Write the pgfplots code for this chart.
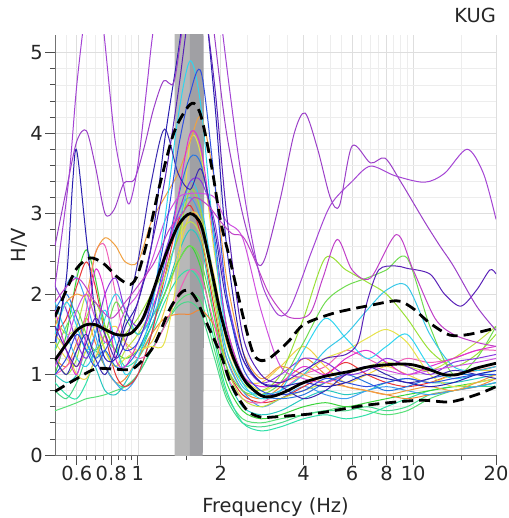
\documentclass[border=0pt]{standalone}
\usepackage{fontspec}
\setmainfont{DejaVu Sans}
\usepackage{pgfplots}
\usepackage{pgfplotstable}
\pgfplotsset{compat=1.18}

\pgfplotstableread{
id n1 n2 n3 n4 n5 n6 n7 n8 n9 n10 n11 n12 n13 n14 n15 n16 n17 n18 n19 n20 n21 n22 n23 n24 n25 n26 n27 n28 n29
f 0.5 0.55 0.6 0.65 0.7 0.76 0.83 0.9 1.0 1.12 1.25 1.4 1.55 1.7 1.9 2.1 2.4 2.8 3.3 4.0 4.8 5.7 6.8 8.0 9.5 11.5 14 17 20
c2 1.0 1.2 1.5 1.3 1.1 1.3 1.5 1.3 1.4 1.9 2.7 3.8 4.5 4.75 3.4 2.0 1.1 0.8 0.75 0.8 0.95 0.9 0.85 0.9 0.95 0.9 0.95 1.0 1.0
c3 1.5 1.9 1.6 1.3 1.5 1.8 1.4 1.0 1.2 1.8 2.9 4.2 4.9 4.3 2.6 1.5 0.9 0.7 0.8 1.3 1.7 1.45 1.2 1.35 1.5 1.1 0.95 1.0 1.05
c4 1.2 1.0 1.3 1.5 1.2 1.0 1.3 1.7 2.4 3.4 4.05 3.5 3.3 3.55 2.8 1.9 1.2 0.9 0.85 0.7 0.8 1.0 1.1 1.0 0.9 0.95 1.05 1.0 0.95
c5 1.4 1.2 1.1 1.3 1.6 1.3 1.1 1.2 1.3 1.35 1.4 2.3 3.9 3.7 2.5 1.6 1.0 0.8 0.9 1.0 1.2 1.3 1.45 1.56 1.4 1.0 0.85 0.9 0.95
c6 1.6 1.9 2.0 2.0 2.5 2.7 2.6 2.4 2.4 2.9 3.2 3.5 3.9 4.2 3.4 2.2 1.3 0.95 1.1 1.0 0.9 0.85 0.8 0.75 0.8 0.85 0.8 0.9 1.0
c7 1.8 1.3 1.0 1.5 2.3 2.0 1.2 1.1 1.4 1.8 2.3 3.2 4.0 3.8 2.6 1.6 1.0 0.85 0.9 1.1 1.0 1.2 1.3 1.15 1.0 1.1 1.2 1.3 1.35
c8 1.1 1.4 1.8 2.0 1.7 1.4 1.5 1.8 2.0 2.4 2.9 3.2 3.25 3.25 3.2 2.9 2.7 1.8 1.1 0.95 0.9 1.0 1.1 1.05 1.0 1.05 1.1 1.15 1.2
c9 1.5 1.7 2.1 2.4 2.1 1.5 1.0 0.85 1.0 1.5 2.2 2.9 3.1 2.7 1.8 1.1 0.75 0.65 0.7 0.85 1.0 1.15 1.0 0.9 0.85 0.9 1.0 1.05 1.1
c10 1.0 1.5 2.2 2.55 2.2 1.6 1.3 1.2 1.3 1.6 2.0 2.4 2.6 2.3 1.5 0.9 0.55 0.45 0.5 0.6 0.65 0.6 0.65 0.7 0.75 0.8 0.85 0.9 0.95
c11 0.9 0.75 0.7 0.9 1.2 1.4 1.3 1.1 1.2 1.5 1.9 2.2 2.3 2.1 1.4 0.8 0.4 0.3 0.35 0.45 0.5 0.45 0.5 0.6 0.7 0.8 0.85 0.85 0.9
c12 0.55 0.6 0.65 0.7 0.72 0.75 0.8 0.85 1.0 1.3 1.6 1.9 2.0 1.9 1.3 0.75 0.45 0.4 0.45 0.5 0.55 0.6 0.55 0.5 0.55 0.7 0.8 0.85 0.9
c13 1.2 1.0 1.2 1.7 1.9 1.6 1.3 1.5 1.7 2.0 2.3 2.7 3.3 3.0 2.0 1.3 0.9 0.8 1.0 1.7 2.45 2.3 2.15 2.0 1.7 1.3 1.1 1.25 1.5
c14 1.3 1.6 1.8 1.5 1.3 1.5 1.9 1.7 1.5 1.7 2.0 2.4 2.6 2.4 1.7 1.1 0.8 0.75 0.9 1.4 1.9 2.1 2.2 2.3 2.45 1.6 1.0 1.2 1.6
c15 1.9 1.5 1.2 1.1 1.3 1.7 2.0 1.8 1.5 1.7 2.1 2.8 3.4 3.1 2.1 1.3 0.85 0.75 0.8 1.0 1.3 1.5 1.8 2.05 2.1 1.5 1.1 1.05 1.1
c16 1.3 2.1 2.2 1.9 1.5 1.1 0.9 0.8 1.0 1.5 2.3 3.0 3.2 2.9 2.0 1.2 0.8 0.6 0.7 0.85 0.75 0.7 0.8 0.85 0.8 0.75 0.8 0.85 0.9
c17 2.1 1.8 1.4 1.2 1.5 2.0 2.2 1.8 1.6 1.9 2.5 3.0 3.4 3.4 2.9 2.0 1.2 0.9 1.0 1.2 1.15 1.0 1.05 1.2 1.1 1.0 1.15 1.2 1.25
c19 1.0 1.1 1.3 1.8 2.5 2.6 2.0 1.4 1.2 1.3 1.6 2.0 2.3 2.2 1.6 1.0 0.7 0.65 0.8 1.0 1.1 1.3 1.2 1.1 1.2 1.15 1.2 1.3 1.3
c20 1.2 1.1 1.4 1.7 1.4 1.1 0.9 0.95 1.2 1.5 1.7 1.75 1.75 1.8 1.6 1.2 0.8 0.7 0.85 1.2 1.0 0.85 0.8 0.75 0.7 0.75 0.8 0.85 0.95
c21 1.5 1.3 1.0 0.95 1.2 1.5 1.6 1.4 1.3 1.4 1.8 2.5 3.0 2.9 2.2 1.4 0.95 0.9 1.1 1.35 1.1 0.9 1.0 1.1 1.0 0.9 1.0 1.05 1.05
c22 1.0 0.9 1.0 1.3 1.1 0.8 0.75 0.9 1.2 1.6 2.0 2.5 2.8 2.6 1.7 1.0 0.6 0.5 0.55 0.7 0.8 0.75 0.8 0.9 0.95 0.9 0.9 0.95 1.0
c23 1.8 2.0 1.7 1.4 1.2 1.3 1.1 1.1 1.3 1.7 2.4 3.2 3.7 3.6 2.7 1.6 1.0 0.75 0.7 0.75 0.9 1.0 0.9 0.8 0.85 0.95 1.0 1.0 1.0
c24 0.8 0.7 0.9 1.2 1.3 1.1 0.9 0.85 1.0 1.3 1.6 1.85 1.9 1.75 1.2 0.7 0.4 0.35 0.4 0.5 0.55 0.55 0.6 0.55 0.6 0.75 0.8 0.85 0.85
c25 1.7 1.5 1.6 2.0 1.8 1.3 1.1 1.3 1.5 1.8 2.2 2.7 2.9 2.7 1.9 1.1 0.7 0.6 0.7 0.8 0.9 1.0 1.1 1.15 1.1 1.05 1.2 1.4 1.6
}\rawT
\pgfplotstabletranspose[colnames from=id]{\T}{\rawT}

\definecolor{cc2}{HTML}{2F4FE0}
\definecolor{cc3}{HTML}{2FD5F0}
\definecolor{cc4}{HTML}{3A2AB0}
\definecolor{cc5}{HTML}{E6E24A}
\definecolor{cc6}{HTML}{F0A040}
\definecolor{cc7}{HTML}{E030D0}
\definecolor{cc8}{HTML}{D050E0}
\definecolor{cc9}{HTML}{E83838}
\definecolor{cc10}{HTML}{3AD43A}
\definecolor{cc11}{HTML}{30E0A8}
\definecolor{cc12}{HTML}{58E078}
\definecolor{cc13}{HTML}{9AE038}
\definecolor{cc14}{HTML}{70DC50}
\definecolor{cc15}{HTML}{38C8E8}
\definecolor{cc16}{HTML}{40A0F0}
\definecolor{cc17}{HTML}{8A38E0}
\definecolor{cc19}{HTML}{F060B8}
\definecolor{cc20}{HTML}{F08838}
\definecolor{cc21}{HTML}{F0D048}
\definecolor{cc22}{HTML}{28C8C0}
\definecolor{cc23}{HTML}{2878E0}
\definecolor{cc24}{HTML}{48D88A}
\definecolor{cc25}{HTML}{C0E048}
\definecolor{cdb}{HTML}{2A1FB0}
\definecolor{cdv}{HTML}{5A22B8}
\definecolor{cpa}{HTML}{9B3FC8}
\definecolor{cpb}{HTML}{A444D4}
\definecolor{cpc}{HTML}{C040C8}
\definecolor{bandL}{HTML}{B8B8B8}
\definecolor{bandD}{HTML}{A0A0A4}

\begin{document}
\begin{tikzpicture}
\begin{axis}[
  scale only axis, width=441bp, height=420bp,
  xmode=log, xmin=0.5, xmax=20, ymin=0, ymax=5.22,
  xtick={0.6,0.8,1,2,4,6,8,10,20},
  xticklabels={0.6,0.8,1,2,4,6,8,10,20},
  minor xtick={0.55,0.65,0.7,0.75,0.85,0.9,0.95,1.5,2.5,3,3.5,4.5,5,5.5,6.5,7,7.5,8.5,9,9.5,15},
  ytick={0,1,2,3,4,5}, yticklabels={0,1,2,3,4,5},
  minor y tick num=4,
  grid=both,
  major grid style={draw=black!13, line width=0.6bp},
  minor grid style={draw=black!7, line width=0.6bp},
  axis lines*=left,
  axis line style={draw=black!55, line width=0.8bp},
  tick align=outside,
  major tick length=10bp, minor tick length=5bp,
  tick style={draw=black!70, line width=0.8bp},
  tick label style={font=\fontsize{19.5}{20}\selectfont, text=black!85},
  yticklabel style={inner sep=0pt, xshift=-2bp},
  xticklabel style={inner sep=0pt, yshift=-1bp},
  xlabel={Frequency (Hz)}, ylabel={H/V},
  label style={font=\fontsize{19.5}{20}\selectfont, text=black!85},
  xlabel style={at={(axis description cs:0.5,0)}, anchor=base, yshift=-57bp},
  title={KUG},
  title style={at={(axis description cs:1,1)}, anchor=base east, inner sep=0pt, yshift=7bp, font=\fontsize{19.5}{20}\selectfont, text=black!85},
  every axis plot/.append style={line width=1bp, smooth, no marks},
]
\addplot[fill=bandL, draw=none, smooth=false] coordinates {(1.36,0) (1.546,0) (1.546,6) (1.36,6)} -- cycle;
\addplot[fill=bandD, draw=none, smooth=false] coordinates {(1.546,0) (1.72,0) (1.72,6) (1.546,6)} -- cycle;

\addplot[cc12] table[x=f,y=c12] {\T};
\addplot[cc24] table[x=f,y=c24] {\T};
\addplot[cc11] table[x=f,y=c11] {\T};
\addplot[cc10] table[x=f,y=c10] {\T};
\addplot[cc22] table[x=f,y=c22] {\T};
\addplot[cc20] table[x=f,y=c20] {\T};
\addplot[cc16] table[x=f,y=c16] {\T};
\addplot[cc9] table[x=f,y=c9] {\T};
\addplot[cc19] table[x=f,y=c19] {\T};
\addplot[cc21] table[x=f,y=c21] {\T};
\addplot[cc25] table[x=f,y=c25] {\T};
\addplot[cc5] table[x=f,y=c5] {\T};
\addplot[cc14] table[x=f,y=c14] {\T};
\addplot[cc13] table[x=f,y=c13] {\T};
\addplot[cc15] table[x=f,y=c15] {\T};
\addplot[cc23] table[x=f,y=c23] {\T};
\addplot[cc17] table[x=f,y=c17] {\T};
\addplot[cc6] table[x=f,y=c6] {\T};
\addplot[cc7] table[x=f,y=c7] {\T};
\addplot[cc8] table[x=f,y=c8] {\T};
\addplot[cc3] table[x=f,y=c3] {\T};
\addplot[cc4] table[x=f,y=c4] {\T};
\addplot[cc2] table[x=f,y=c2] {\T};

\addplot[cdb] coordinates {(0.5,1.4)(0.55,2.2)(0.58,3.4)(0.6,3.78)(0.65,2.7)(0.71,1.6)(0.76,1.2)(0.83,1.2)(0.9,1.6)(1.0,1.9)(1.12,2.6)(1.25,3.9)(1.4,5.0)(1.55,6.0)(1.7,6.0)(1.9,4.4)(2.1,2.6)(2.4,1.3)(2.8,0.9)(3.3,0.85)(4.0,0.9)(4.8,0.85)(5.7,0.9)(6.8,1.0)(8.0,0.95)(9.5,0.9)(11.5,0.85)(14,0.9)(17,1.0)(20,1.05)};
\addplot[cdv] coordinates {(0.5,1.6)(0.55,1.3)(0.6,1.1)(0.65,1.4)(0.7,1.7)(0.76,1.5)(0.83,1.2)(0.9,1.4)(1.0,1.9)(1.12,2.6)(1.25,3.4)(1.4,4.5)(1.55,5.6)(1.7,5.8)(1.9,4.6)(2.1,3.0)(2.4,1.5)(2.8,1.0)(3.3,0.9)(4.0,1.05)(4.8,1.2)(5.7,1.25)(6.3,1.4)(6.8,1.9)(7.5,2.3)(8.6,2.35)(9.5,2.32)(11.5,2.25)(13,2.0)(14.9,1.85)(17,2.05)(19,2.3)(20,2.25)};
\addplot[cpc] coordinates {(0.5,1.9)(0.6,2.2)(0.7,1.9)(0.8,1.7)(0.9,1.9)(1.0,2.1)(1.15,2.4)(1.3,2.8)(1.45,3.0)(1.6,3.2)(1.8,3.1)(2.0,2.9)(2.2,2.75)(2.4,2.72)(2.6,2.5)(3.0,2.0)(3.5,1.72)(4.2,1.75)(4.7,2.2)(5.3,2.68)(6,2.3)(7,2.2)(8.7,2.74)(10,2.3)(12,1.7)(14,1.5)(17,1.4)(20,1.35)};
\addplot[cpa] coordinates {(0.5,2.6)(0.55,3.3)(0.6,3.9)(0.65,4.03)(0.7,3.6)(0.76,3.0)(0.82,3.05)(0.89,3.38)(0.97,3.42)(1.05,3.8)(1.14,4.3)(1.24,4.65)(1.35,4.63)(1.45,5.3)(1.6,6.3)(1.75,6.3)(1.9,5.2)(2.1,4.0)(2.4,3.0)(2.7,2.4)(2.9,2.45)(3.3,3.2)(3.7,4.0)(4.05,4.25)(4.5,3.8)(5.0,3.2)(5.4,3.1)(6.0,3.84)(7.0,3.63)(7.9,3.69)(9,3.4)(11,2.9)(12.5,2.6)(14,2.35)(17,1.85)(20,1.55)};
\addplot[cpb] coordinates {(0.5,2.1)(0.56,3.4)(0.6,4.6)(0.65,5.6)(0.7,6.1)(0.75,5.3)(0.82,4.0)(0.88,3.42)(0.93,3.12)(1.0,3.6)(1.08,4.6)(1.14,5.3)(1.3,6.5)(1.6,7)(1.85,6.5)(2.04,5.2)(2.3,3.8)(2.56,2.8)(2.84,2.1)(3.24,1.74)(3.6,1.85)(4.3,2.55)(5,3.1)(6,3.4)(7.0,3.59)(8.6,3.47)(11,3.39)(13,3.5)(15.7,3.8)(18,3.5)(20,2.93)};

% mean +/- std
\addplot[black, line width=2.8bp, dash pattern=on 11bp off 6bp] coordinates {(0.5,1.72)(0.55,2.05)(0.6,2.32)(0.67,2.45)(0.75,2.38)(0.85,2.2)(0.94,2.12)(1.0,2.25)(1.08,2.65)(1.2,3.35)(1.35,4.0)(1.5,4.3)(1.6,4.37)(1.7,4.2)(1.85,3.6)(2.0,2.9)(2.17,2.4)(2.4,1.75)(2.6,1.3)(2.76,1.18)(3.0,1.2)(3.5,1.4)(4.0,1.62)(5.0,1.75)(5.9,1.81)(7,1.86)(8.3,1.91)(9.0,1.91)(10,1.82)(11.5,1.64)(13.6,1.49)(16,1.5)(20,1.58)};
\addplot[black, line width=2.8bp, dash pattern=on 11bp off 6bp] coordinates {(0.5,0.79)(0.6,0.95)(0.7,1.07)(0.8,1.07)(0.93,1.06)(1.0,1.12)(1.14,1.35)(1.3,1.8)(1.42,2.0)(1.51,2.05)(1.62,1.95)(1.8,1.6)(2.0,1.25)(2.2,0.85)(2.5,0.55)(2.8,0.47)(3.05,0.47)(4.5,0.52)(6.8,0.62)(10.5,0.68)(13.6,0.66)(17,0.75)(20,0.85)};
\addplot[black, line width=2.8bp] coordinates {(0.5,1.18)(0.55,1.38)(0.6,1.55)(0.65,1.62)(0.7,1.62)(0.76,1.56)(0.83,1.5)(0.9,1.49)(0.95,1.52)(1.0,1.6)(1.05,1.72)(1.12,1.98)(1.25,2.45)(1.4,2.85)(1.55,3.0)(1.7,2.85)(1.85,2.3)(2.0,1.75)(2.2,1.25)(2.45,0.92)(2.8,0.74)(3.1,0.73)(3.5,0.8)(4.0,0.9)(4.8,0.98)(5.9,1.04)(7.0,1.1)(8.75,1.13)(10,1.12)(11.5,1.06)(12.9,1.0)(14.5,1.0)(17,1.08)(20,1.14)};
\end{axis}
\pgfresetboundingbox
\path ([xshift=-55bp,yshift=-63bp]current axis.south west) rectangle ([xshift=13bp,yshift=35bp]current axis.north east);
\end{tikzpicture}
\end{document}
